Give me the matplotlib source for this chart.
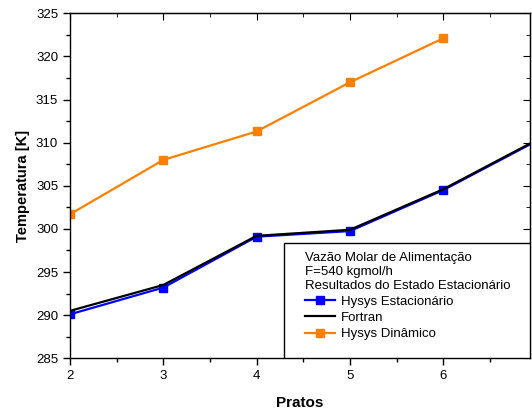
import matplotlib
matplotlib.use('Agg')
import matplotlib.pyplot as plt
import matplotlib.patches as mpatches

plt.rcParams['font.family'] = ['Liberation Sans', 'DejaVu Sans']

# --------------------------------------------------
# Data
# --------------------------------------------------
pratos = [2, 3, 4, 5, 6, 7]
hysys_estacionario = [290.1, 293.2, 299.1, 299.75, 304.5, 310.2]
fortran = [290.5, 293.5, 299.2, 299.9, 304.6, 310.3]
pratos_din = [2, 3, 4, 5, 6]
hysys_dinamico = [301.7, 308.0, 311.3, 317.0, 322.1]

header = ("Vazão Molar de Alimentação\n"
          "F=540 kgmol/h\n"
          "Resultados do Estado Estacionário")

# --------------------------------------------------
# Figure
# --------------------------------------------------
fig = plt.figure(figsize=(5.32, 4.13), dpi=100)
ax = fig.add_axes([70 / 532, 1 - 358.3 / 413, 460 / 532, 345 / 413])

blue = '#0000ff'
orange = '#ff8000'

l1, = ax.plot(pratos, hysys_estacionario, color=blue, lw=1.6, marker='s',
              ms=5.5, label='Hysys Estacionário')
l2, = ax.plot(pratos, fortran, color='black', lw=1.6, label='Fortran')
l3, = ax.plot(pratos_din, hysys_dinamico, color=orange, lw=1.6, marker='s',
              ms=5.5, label='Hysys Dinâmico')

ax.set_xlim(2, 6.93)
ax.set_ylim(285, 325)
ax.set_xticks([2, 3, 4, 5, 6])
ax.set_xticks([2.5, 3.5, 4.5, 5.5, 6.5], minor=True)
ax.set_yticks(range(285, 326, 5))
ax.set_yticks([287.5 + 5 * i for i in range(8)], minor=True)
ax.tick_params(which='major', direction='out', length=5, width=1, labelsize=9.5)
ax.tick_params(which='minor', direction='out', length=3, width=1)

# mirrored inward ticks on top/right
top = ax.secondary_xaxis('top')
top.set_xticks([2, 3, 4, 5, 6])
top.set_xticks([2.5, 3.5, 4.5, 5.5, 6.5], minor=True)
top.tick_params(which='major', direction='in', length=5, labeltop=False)
top.tick_params(which='minor', direction='in', length=3)
right = ax.secondary_yaxis('right')
right.set_yticks(range(285, 326, 5))
right.set_yticks([287.5 + 5 * i for i in range(8)], minor=True)
right.tick_params(which='major', direction='in', length=5, labelright=False)
right.tick_params(which='minor', direction='in', length=3)

for sp in ax.spines.values():
    sp.set_linewidth(1)

ax.set_xlabel('Pratos', fontsize=11, fontweight='bold', labelpad=10)
ax.set_ylabel('Temperatura [K]', fontsize=10.5, fontweight='bold', labelpad=4)

# --------------------------------------------------
# Legend box
# --------------------------------------------------
x0 = (284 - 70) / 460
box = mpatches.Rectangle((x0, 0), 1 - x0, (358.3 - 243.3) / 345,
                         transform=ax.transAxes, facecolor='white',
                         edgecolor='black', lw=1, zorder=4)
ax.add_patch(box)
leg = ax.legend(handles=[l1, l2, l3], title=header, loc='upper left',
                bbox_to_anchor=((305 - 70) / 460, (358.3 - 252) / 345),
                frameon=False, fontsize=9.5, title_fontsize=9.5,
                borderpad=0, borderaxespad=0, handlelength=2.3,
                handletextpad=0.4, labelspacing=0.3, numpoints=1,
                alignment='left')
leg.set_zorder(5)

fig.savefig('out.png', dpi=100)
